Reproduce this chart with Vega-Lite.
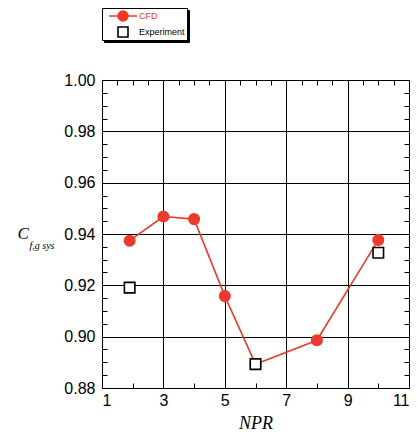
{
  "$schema": "https://vega.github.io/schema/vega-lite/v6.json",
  "width": 307,
  "height": 308,
  "autosize": "none",
  "padding": {"left": 102, "top": 80, "right": 8, "bottom": 49},
  "background": "white",
  "config": {"view": {"stroke": "black", "strokeWidth": 1}},
  "data": {
    "values": [
      {"series": "CFD", "npr": 1.9, "cf": 0.9374},
      {"series": "CFD", "npr": 3.0, "cf": 0.9468},
      {"series": "CFD", "npr": 4.0, "cf": 0.9458},
      {"series": "CFD", "npr": 5.0, "cf": 0.9158},
      {"series": "CFD", "npr": 6.0, "cf": 0.8893},
      {"series": "CFD", "npr": 8.0, "cf": 0.8986},
      {"series": "CFD", "npr": 10.0, "cf": 0.9377},
      {"series": "Experiment", "npr": 1.9, "cf": 0.9191},
      {"series": "Experiment", "npr": 6.0, "cf": 0.8893},
      {"series": "Experiment", "npr": 10.0, "cf": 0.9327}
    ]
  },
  "resolve": {"axis": {"x": "independent", "y": "independent"}},
  "layer": [
    {
      "transform": [{"filter": "datum.series === 'CFD'"}],
      "mark": {"type": "line", "color": "#ec3a2c", "strokeWidth": 1.6},
      "encoding": {
        "x": {
          "field": "npr", "type": "quantitative",
          "scale": {"domain": [1, 11], "nice": false, "zero": false},
          "axis": {
            "orient": "bottom",
            "values": [1,1.5,2,2.5,3,3.5,4,4.5,5,5.5,6,6.5,7,7.5,8,8.5,9,9.5,10,10.5,11],
            "format": "d",
            "labelExpr": "abs(datum.value % 2 - 1) < 0.001 ? datum.label : ''",
            "labelFont": "Liberation Sans", "labelFontSize": 16, "labelColor": "black",
            "labelPadding": 4,
            "tickColor": "black", "tickWidth": 1,
            "tickSize": {"condition": {"test": "abs(datum.value % 2 - 1) < 0.001", "value": 0}, "value": -5},
            "grid": true, "gridColor": "black", "gridWidth": 1,
            "gridOpacity": {"condition": {"test": "abs(datum.value % 2 - 1) < 0.001", "value": 1}, "value": 0},
            "domain": false,
            "title": "NPR", "titleFont": "Liberation Serif", "titleFontStyle": "italic",
            "titleFontWeight": "normal", "titleFontSize": 18, "titleColor": "black", "titlePadding": 6
          }
        },
        "y": {
          "field": "cf", "type": "quantitative",
          "scale": {"domain": [0.88, 1.0], "nice": false, "zero": false},
          "axis": {
            "orient": "left",
            "values": [0.88,0.885,0.89,0.895,0.9,0.905,0.91,0.915,0.92,0.925,0.93,0.935,0.94,0.945,0.95,0.955,0.96,0.965,0.97,0.975,0.98,0.985,0.99,0.995,1.0],
            "format": ".2f",
            "labelExpr": "abs(datum.value * 50 - round(datum.value * 50)) < 0.001 ? datum.label : ''",
            "labelFont": "Liberation Sans", "labelFontSize": 16, "labelColor": "black",
            "labelPadding": 7,
            "tickColor": "black", "tickWidth": 1,
            "tickSize": {"condition": {"test": "abs(datum.value * 50 - round(datum.value * 50)) < 0.001", "value": 0}, "value": -5},
            "grid": true, "gridColor": "black", "gridWidth": 1,
            "gridOpacity": {"condition": {"test": "abs(datum.value * 50 - round(datum.value * 50)) < 0.001", "value": 1}, "value": 0},
            "domain": false,
            "title": "C", "titleFont": "Liberation Serif", "titleFontStyle": "italic",
            "titleFontWeight": "normal", "titleFontSize": 17, "titleColor": "black",
            "titleAngle": 0, "titleAlign": "left", "titleBaseline": "alphabetic",
            "titleX": -85, "titleY": 158
          }
        }
      }
    },
    {
      "mark": {"type": "point", "strokeWidth": 1.6, "size": 110, "opacity": 1},
      "encoding": {
        "x": {
          "field": "npr", "type": "quantitative",
          "axis": {
            "orient": "top",
            "values": [1,1.5,2,2.5,3,3.5,4,4.5,5,5.5,6,6.5,7,7.5,8,8.5,9,9.5,10,10.5,11],
            "labels": false, "grid": false, "domain": false, "title": null,
            "tickColor": "black", "tickWidth": 1,
            "tickSize": {"condition": {"test": "abs(datum.value % 2 - 1) < 0.001", "value": 0}, "value": -5}
          }
        },
        "y": {
          "field": "cf", "type": "quantitative",
          "axis": {
            "orient": "right",
            "values": [0.88,0.885,0.89,0.895,0.9,0.905,0.91,0.915,0.92,0.925,0.93,0.935,0.94,0.945,0.95,0.955,0.96,0.965,0.97,0.975,0.98,0.985,0.99,0.995,1.0],
            "labels": false, "grid": false, "domain": false,
            "tickColor": "black", "tickWidth": 1,
            "tickSize": {"condition": {"test": "abs(datum.value * 50 - round(datum.value * 50)) < 0.001", "value": 0}, "value": -5},
            "title": "f,g sys", "titleFont": "Liberation Serif", "titleFontStyle": "italic",
            "titleFontWeight": "normal", "titleFontSize": 10, "titleColor": "black",
            "titleAngle": 0, "titleAlign": "left", "titleBaseline": "alphabetic",
            "titleX": -380, "titleY": 168
          }
        },
        "shape": {"condition": {"test": "datum.series === 'CFD'", "value": "circle"}, "value": "square"},
        "fill": {"condition": {"test": "datum.series === 'CFD'", "value": "#ec3a2c"}, "value": "white"},
        "stroke": {"condition": {"test": "datum.series === 'CFD'", "value": "#ec3a2c"}, "value": "black"}
      }
    },
    {
      "mark": {"type": "point", "opacity": 0},
      "encoding": {
        "size": {
          "field": "series", "type": "nominal",
          "scale": {"domain": ["Experiment", "CFD"], "range": [100, 100]},
          "legend": {
            "title": null, "orient": "none", "legendX": 2, "legendY": -70,
            "fillColor": "black", "strokeColor": "black", "cornerRadius": 0,
            "padding": 2, "symbolOffset": 13, "labelOffset": 55.5, "rowPadding": 4, "clipHeight": 12,
            "labelFont": "Liberation Sans", "labelFontSize": 9,
            "labelExpr": "''",
            "symbolStrokeWidth": 1.6, "symbolOpacity": 0, "labelOpacity": 0
          }
        }
      }
    },
    {
      "mark": {"type": "point", "opacity": 0},
      "encoding": {
        "shape": {
          "field": "series", "type": "nominal",
          "scale": {"domain": ["CFD", "Experiment"], "range": ["M-2.8,0H-1M1,0H2.8M-1,0A1,1 0 1,0 1,0A1,1 0 1,0 -1,0Z", "square"]},
          "legend": {
            "title": null, "orient": "none", "legendX": 0, "legendY": -72,
            "fillColor": "white", "strokeColor": "black", "cornerRadius": 0,
            "padding": 2, "symbolOffset": 13, "labelOffset": 10, "rowPadding": 4, "clipHeight": 12,
            "labelFont": "Liberation Sans", "labelFontSize": 9, "labelColor": "black",
            "labelExpr": "datum.label === 'CFD' ? '' : datum.label",
            "symbolSize": 100, "symbolStrokeWidth": 1.6, "symbolOpacity": 1
          }
        },
        "fill": {
          "field": "series", "type": "nominal",
          "scale": {"domain": ["CFD", "Experiment"], "range": ["#ec3a2c", "white"]}
        },
        "stroke": {
          "field": "series", "type": "nominal",
          "scale": {"domain": ["CFD", "Experiment"], "range": ["#ec3a2c", "black"]}
        }
      }
    },
    {
      "transform": [{"filter": "datum.series === 'CFD'"}],
      "mark": {"type": "point", "opacity": 0},
      "encoding": {
        "color": {
          "field": "series", "type": "nominal",
          "scale": {"domain": ["CFD"], "range": ["#ec3a2c"]},
          "legend": {
            "title": null, "orient": "none", "legendX": 0, "legendY": -72,
            "padding": 2, "symbolOffset": 13, "labelOffset": 10, "rowPadding": 4, "clipHeight": 12,
            "labelFont": "Liberation Sans", "labelFontSize": 9, "labelColor": "#ec3a2c",
            "symbolSize": 100, "symbolStrokeWidth": 1.6, "symbolOpacity": 0
          }
        }
      }
    }
  ]
}
